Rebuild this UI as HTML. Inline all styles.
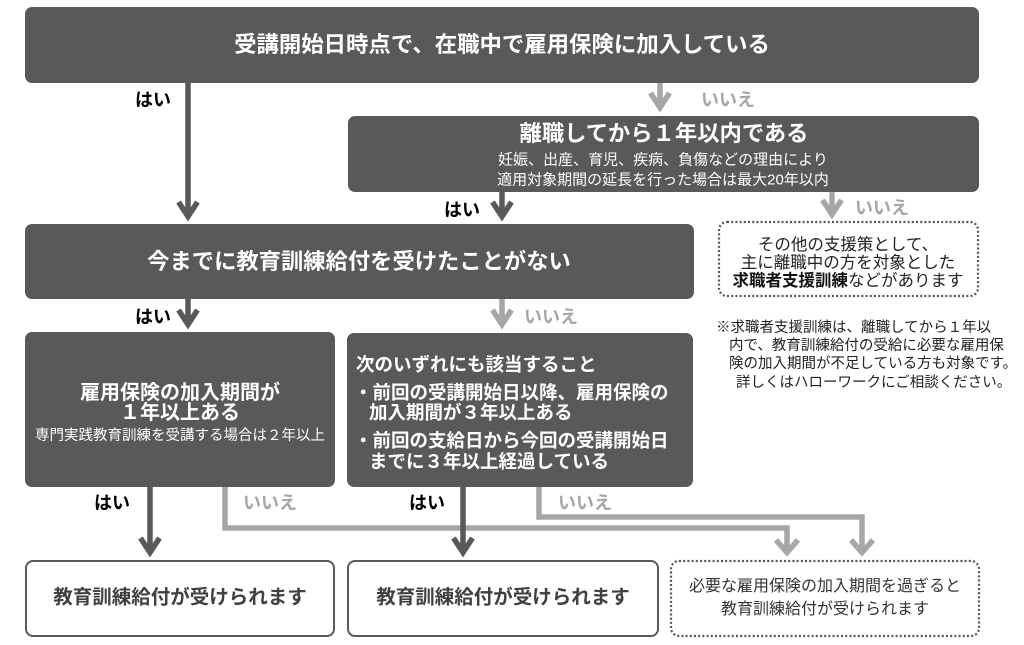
<!DOCTYPE html>
<html><head><meta charset="utf-8">
<style>
*{margin:0;padding:0;box-sizing:border-box}
html,body{width:1024px;height:645px;background:#fff;overflow:hidden}
body{position:relative;font-family:"Liberation Sans","Noto Sans CJK JP",sans-serif}
.box{position:absolute;background:#595959;border-radius:7px}
.wbox{position:absolute;background:#fff;border:2px solid #5a5a5a;border-radius:8px}
.t{position:absolute;white-space:nowrap;line-height:1}
.w{color:#fff;font-weight:bold}
.c{transform:translate(-50%,-50%)}
.l{transform:translateY(-50%)}
.yes{font-weight:bold;color:#000;font-size:18px}
.no{font-weight:bold;color:#a6a6a6;font-size:18px}
svg{position:absolute;left:0;top:0}
</style></head><body>

<!-- dark boxes -->
<div class="box" style="left:25px;top:7px;width:954px;height:76px"></div>
<div class="box" style="left:348px;top:116px;width:631px;height:76px"></div>
<div class="box" style="left:25px;top:224px;width:669px;height:75px"></div>
<div class="box" style="left:25px;top:332px;width:310px;height:155px"></div>
<div class="box" style="left:347px;top:333px;width:346px;height:154px"></div>

<!-- white result boxes -->
<div class="wbox" style="left:25px;top:560px;width:310px;height:77px"></div>
<div class="wbox" style="left:347px;top:560px;width:312px;height:77px"></div>

<svg width="1024" height="645" viewBox="0 0 1024 645">
  <!-- dotted boxes -->
  <rect x="719" y="222" width="259" height="74" rx="8" ry="8" fill="none" stroke="#555" stroke-width="2.2" stroke-dasharray="2 2.2"/>
  <rect x="671" y="561" width="308" height="75" rx="8" ry="8" fill="none" stroke="#555" stroke-width="2.2" stroke-dasharray="2 2.2"/>

  <!-- gray connectors -->
  <g fill="none" stroke="#a6a6a6" stroke-width="5.5" stroke-linejoin="miter" stroke-linecap="butt">
    <path d="M660 83 V108"/>
    <polyline points="650.5,93 660,107.5 669.5,93"/>
    <path d="M832 192 V215"/>
    <polyline points="822.5,200 832,214.5 841.5,200"/>
    <path d="M502 299 V325"/>
    <polyline points="492.5,310 502,324.5 511.5,310"/>
    <path d="M225 487 V528 H787 V553"/>
    <polyline points="776,540 787,552.5 798,540"/>
    <path d="M539 487 V517 H862 V553"/>
    <polyline points="851,540 862,552.5 873,540"/>
  </g>

  <!-- dark connectors -->
  <g fill="none" stroke="#595959" stroke-width="5.5" stroke-linejoin="miter" stroke-linecap="butt">
    <path d="M188 83 V217"/>
    <polyline points="178.5,202 188,216.5 197.5,202"/>
    <path d="M502 192 V217"/>
    <polyline points="492.5,202 502,216.5 511.5,202"/>
    <path d="M188 299 V325"/>
    <polyline points="178.5,310 188,324.5 197.5,310"/>
    <path d="M150 487 V553"/>
    <polyline points="140.5,538 150,552.5 159.5,538"/>
    <path d="M463 487 V553"/>
    <polyline points="453.5,538 463,552.5 472.5,538"/>
  </g>
</svg>

<!-- box texts -->
<div class="t w c" style="left:502px;top:45px;font-size:22.4px">受講開始日時点で、在職中で雇用保険に加入している</div>

<div class="t w c" style="left:664px;top:134px;font-size:22.3px">離職してから１年以内である</div>
<div class="t c" style="left:663px;top:160px;font-size:15px;color:#fff">妊娠、出産、育児、疾病、負傷などの理由により</div>
<div class="t c" style="left:663px;top:180px;font-size:15px;color:#fff">適用対象期間の延長を行った場合は最大20年以内</div>

<div class="t w c" style="left:359px;top:262px;font-size:22.3px">今までに教育訓練給付を受けたことがない</div>

<div class="t w c" style="left:180px;top:393px;font-size:20px">雇用保険の加入期間が</div>
<div class="t w c" style="left:180px;top:413px;font-size:20px">１年以上ある</div>
<div class="t c" style="left:180px;top:436px;font-size:14.5px;color:#fff">専門実践教育訓練を受講する場合は２年以上</div>

<div class="t w l" style="left:356px;top:365px;font-size:18.5px">次のいずれにも該当すること</div>
<div class="t w l" style="left:354px;top:393px;font-size:18.5px">・前回の受講開始日以降、雇用保険の</div>
<div class="t w l" style="left:369px;top:413px;font-size:18.5px">加入期間が３年以上ある</div>
<div class="t w l" style="left:354px;top:441px;font-size:18.5px">・前回の支給日から今回の受講開始日</div>
<div class="t w l" style="left:369px;top:462px;font-size:18.5px">までに３年以上経過している</div>

<div class="t c" style="left:180px;top:598px;font-size:19.5px;font-weight:bold;color:#404040">教育訓練給付が受けられます</div>
<div class="t c" style="left:503px;top:598px;font-size:19.5px;font-weight:bold;color:#404040">教育訓練給付が受けられます</div>

<div class="t c" style="left:825px;top:587px;font-size:16px;color:#333">必要な雇用保険の加入期間を過ぎると</div>
<div class="t c" style="left:825px;top:610px;font-size:16px;color:#333">教育訓練給付が受けられます</div>

<div class="t c" style="left:848px;top:245px;font-size:16.5px;color:#222">その他の支援策として、</div>
<div class="t c" style="left:848px;top:263px;font-size:16.5px;color:#222">主に離職中の方を対象とした</div>
<div class="t c" style="left:848px;top:281px;font-size:16.5px;color:#222"><b style="color:#111">求職者支援訓練</b>などがあります</div>

<!-- note -->
<div class="t l" style="left:716px;top:328px;font-size:14.5px;color:#222">※求職者支援訓練は、離職してから１年以</div>
<div class="t l" style="left:729px;top:346px;font-size:14.5px;color:#222">内で、教育訓練給付の受給に必要な雇用保</div>
<div class="t l" style="left:729px;top:364px;font-size:14.5px;color:#222">険の加入期間が不足している方も対象です。</div>
<div class="t l" style="left:736px;top:383px;font-size:14.5px;color:#222">詳しくはハローワークにご相談ください。</div>

<!-- labels -->
<div class="t c yes" style="left:153px;top:100px">はい</div>
<div class="t c no" style="left:728px;top:100px">いいえ</div>
<div class="t c yes" style="left:462px;top:210px">はい</div>
<div class="t c no" style="left:882px;top:208px">いいえ</div>
<div class="t c yes" style="left:153px;top:317px">はい</div>
<div class="t c no" style="left:551px;top:317px">いいえ</div>
<div class="t c yes" style="left:112px;top:503px">はい</div>
<div class="t c no" style="left:270px;top:503px">いいえ</div>
<div class="t c yes" style="left:427px;top:503px">はい</div>
<div class="t c no" style="left:585px;top:503px">いいえ</div>

</body></html>
